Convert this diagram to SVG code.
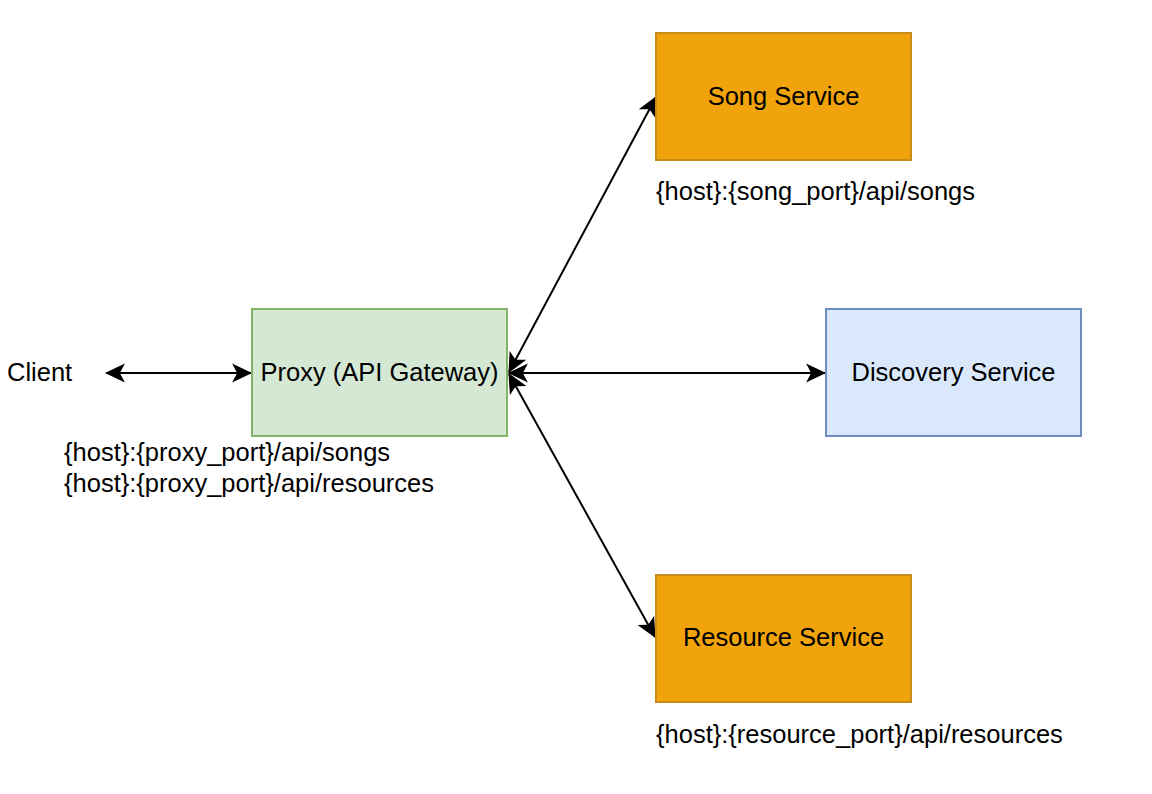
<svg xmlns="http://www.w3.org/2000/svg" width="1152" height="794" viewBox="0 0 1152 794">
  <style>
    text { font-family: "Liberation Sans", Arial, sans-serif; font-size: 25.5px; fill: #000000; }
    .orange { fill: #f0a30a; stroke: #c98b1a; stroke-width: 2; }
    .green { fill: #d5e8d4; stroke: #82b366; stroke-width: 2; }
    .blue { fill: #dae8fc; stroke: #6c8ebf; stroke-width: 2; }
    .conn { stroke: #000000; stroke-width: 2; fill: none; marker-start: url(#arrow); marker-end: url(#arrow); }
  </style>
  <defs>
    <marker id="arrow" markerUnits="userSpaceOnUse" markerWidth="20" markerHeight="20" viewBox="0 0 18 17" refX="17" refY="8.5" orient="auto-start-reverse">
      <path d="M0,0 L18,8.5 L0,17 L4.5,8.5 Z" fill="#000000"/>
    </marker>
  </defs>
  <rect width="1152" height="794" fill="#ffffff"/>

  <g id="connectors">
    <line class="conn" x1="106" y1="373" x2="251" y2="373"/>
    <line class="conn" x1="509" y1="372" x2="656" y2="97"/>
    <line class="conn" x1="509" y1="373" x2="825" y2="373"/>
    <line class="conn" x1="509" y1="374" x2="655" y2="637"/>
  </g>

  <g id="client">
    <text x="7" y="381">Client</text>
  </g>

  <g id="proxy">
    <rect class="green" x="252" y="309" width="255" height="127"/>
    <text x="379.5" y="381" text-anchor="middle">Proxy (API Gateway)</text>
  </g>

  <g id="proxy-label">
    <text x="64" y="461">{host}:{proxy_port}/api/songs</text>
    <text x="64" y="492">{host}:{proxy_port}/api/resources</text>
  </g>

  <g id="song-service">
    <rect class="orange" x="656" y="33" width="255" height="127"/>
    <text x="783.5" y="105" text-anchor="middle">Song Service</text>
  </g>

  <g id="song-label">
    <text x="656" y="200">{host}:{song_port}/api/songs</text>
  </g>

  <g id="discovery-service">
    <rect class="blue" x="826" y="309" width="255" height="127"/>
    <text x="953.5" y="381" text-anchor="middle">Discovery Service</text>
  </g>

  <g id="resource-service">
    <rect class="orange" x="656" y="575" width="255" height="127"/>
    <text x="783.5" y="646" text-anchor="middle">Resource Service</text>
  </g>

  <g id="resource-label">
    <text x="656" y="743">{host}:{resource_port}/api/resources</text>
  </g>
</svg>
